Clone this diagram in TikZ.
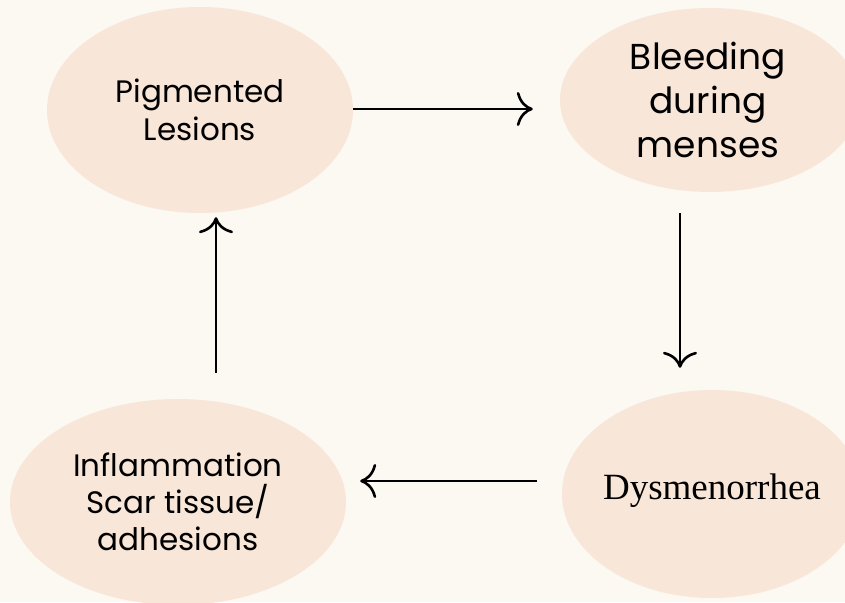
\documentclass[tikz,border=0pt]{standalone}
\usepackage{fontspec}
\setmainfont{Poppins}
\newfontfamily\serifface{Liberation Serif}
\usetikzlibrary{shapes.geometric,arrows.meta}
\definecolor{bgcol}{HTML}{FCF8F2}
\definecolor{ellcol}{HTML}{F8E6D8}
\tikzset{
  blob/.style={ellipse, fill=ellcol, draw=none, inner sep=0pt, align=center, text=black},
  arr/.style={line width=2.6pt, -{Computer Modern Rightarrow[length=16pt,width=34pt,line width=2.6pt]}},
}
\begin{document}
\begin{tikzpicture}[x=1pt,y=1pt]
\fill[bgcol] (0,0) rectangle (845,602);
\useasboundingbox (0,0) rectangle (845,602);
\node[blob, minimum width=306pt, minimum height=206pt] (pig) at (200,492) {};
\node[font=\fontsize{31}{38}\selectfont, align=center] (pigt) at (pig.center) {Pigmented\\Lesions};
\node[blob, minimum width=300pt, minimum height=184pt] (bleed) at (710,502) {};
\node[font=\fontsize{36}{44}\selectfont, align=center] (bleedt) at ([xshift=-2pt]bleed.center) {Bleeding\\during\\menses};
\node[blob, minimum width=300pt, minimum height=208pt] (dys) at (712,108) {};
\node[font=\serifface\fontsize{37}{40}\selectfont] (dyst) at ([yshift=3pt]dys.center) {Dysmenorrhea};
\node[blob, minimum width=336pt, minimum height=206pt] (inf) at (178,100) {};
\node[font=\fontsize{31}{37}\selectfont, align=center] (inft) at (inf.center) {Inflammation\\Scar tissue/\\adhesions};
\draw[arr] ([yshift=1pt]pig.east) -- ([xshift=-27pt,yshift=1pt]bleed.west |- pig.east);
\draw[arr] ([xshift=-30pt,yshift=-21pt]bleed.south) -- ([xshift=-32pt,yshift=22pt]dys.north);
\draw[arr] ([xshift=-25pt,yshift=13pt]dys.west) -- ([xshift=14pt,yshift=13pt]dys.west -| inf.east);
\draw[arr] ([xshift=38pt,yshift=26pt]inf.north) -- ([xshift=16pt,yshift=-4pt]pig.south);
\end{tikzpicture}
\end{document}
